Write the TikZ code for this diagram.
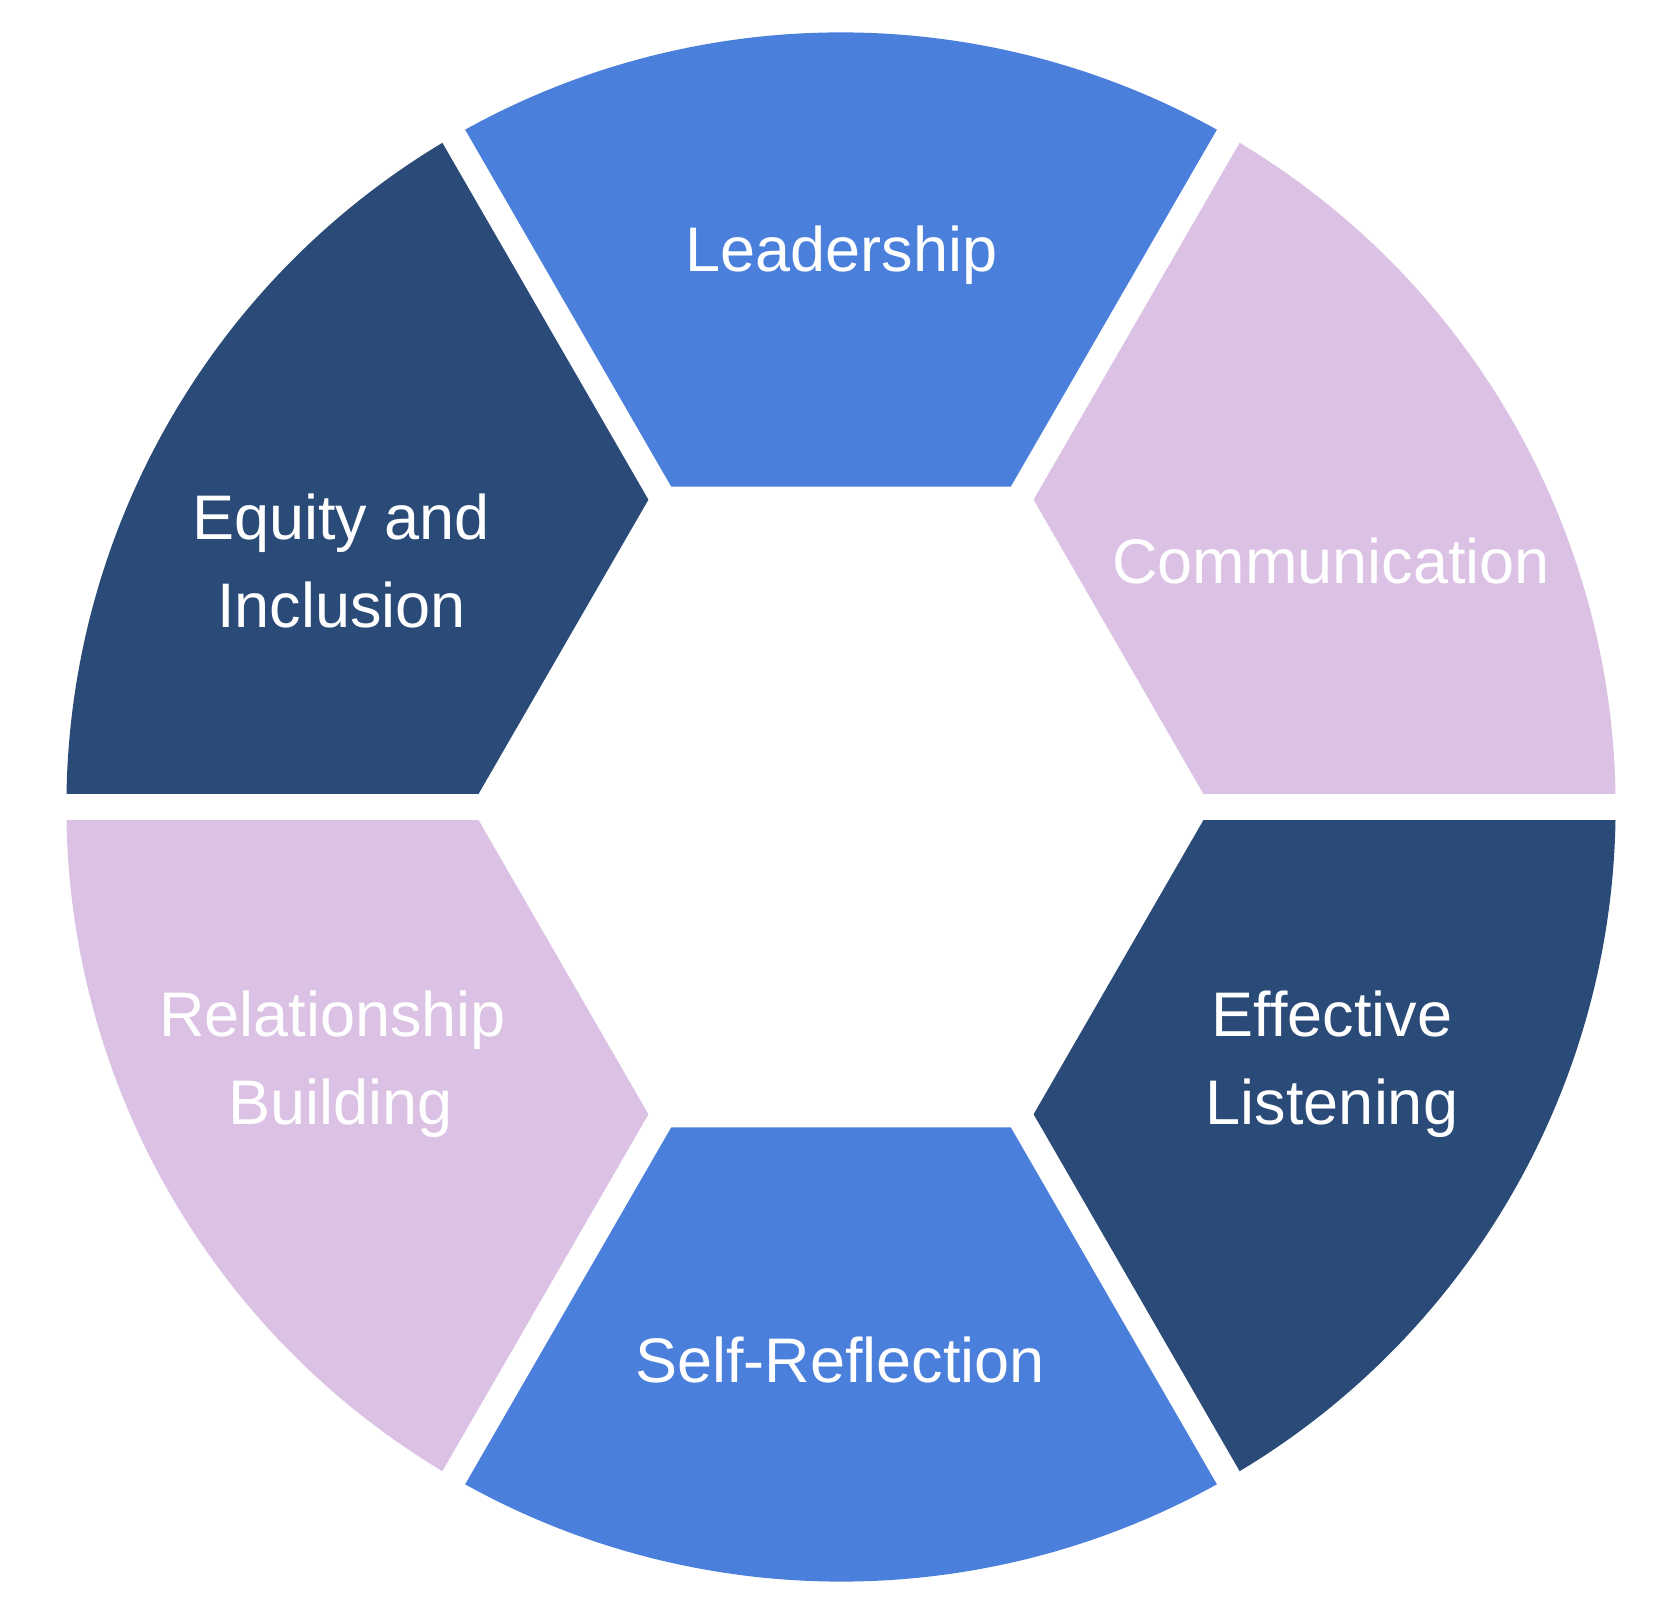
\documentclass[tikz,border=0pt]{standalone}
\usepackage{fontspec}
\setmainfont{Liberation Sans}
\usetikzlibrary{calc}
\definecolor{segblue}{HTML}{4A7FDC}
\definecolor{segnavy}{HTML}{2A4A77}
\definecolor{seglav}{HTML}{DBC1E4}
\begin{document}
\begin{tikzpicture}[x=1pt,y=1pt]
\tikzset{
  lbl/.style={text=white,anchor=base,inner sep=0pt,font=\fontsize{63}{88}\selectfont},
  gapline/.style={white,line width=26pt}
}
\useasboundingbox[fill=white] (0,0) rectangle (1680,1615);
\coordinate (c) at (841,808);
\def\Rin{370}
\def\Rout{774.6}
\foreach \a/\col in {0/seglav,60/segblue,120/segnavy,180/seglav,240/segblue,300/segnavy}{
  \fill[\col] ($(c)+(\a:\Rin)$) -- ($(c)+(\a:\Rout)$)
     arc[start angle=\a,end angle=\a+60,radius=\Rout]
     -- ($(c)+(\a+60:\Rin)$) -- cycle;
}
\foreach \a in {0,60,...,300}{
  \draw[gapline] (c) -- ($(c)+(\a:800)$);
}
\node[lbl] (lead) at (841.5,1343.3) {Leadership};
\node[lbl] (comm) at (1331,1031.7) {Communication};
\node[lbl] (eq1) at (341,1075) {Equity and};
\node[lbl] (eq2) at (341.5,987) {Inclusion};
\node[lbl] (rel1) at (332.5,578) {Relationship};
\node[lbl] (rel2) at (341,490) {Building};
\node[lbl] (eff1) at (1332,578) {Effective};
\node[lbl] (eff2) at (1332,490) {Listening};
\node[lbl] (self) at (840,232.3) {Self-Reflection};
\end{tikzpicture}
\end{document}
